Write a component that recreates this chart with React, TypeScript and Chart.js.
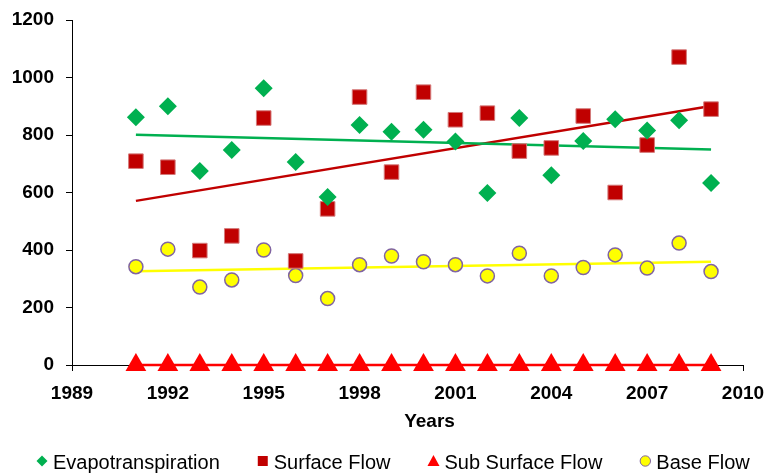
import { useEffect, useRef } from "react";
import { Chart, registerables } from "chart.js";

Chart.register(...registerables);

// Annual water balance components (mm) for each year of record
const years = [1991, 1992, 1993, 1994, 1995, 1996, 1997, 1998, 1999, 2000, 2001, 2002, 2003, 2004, 2005, 2006, 2007, 2008, 2009];
const evapotranspiration = [862, 900, 675, 748, 963, 706, 584, 835, 811, 818, 777, 598, 859, 660, 779, 855, 816, 851, 633];
const surfaceFlow = [709, 688, 398, 449, 859, 362, 543, 932, 671, 949, 853, 876, 744, 755, 866, 600, 765, 1071, 890];
const subSurfaceFlow = [0, 0, 0, 0, 0, 0, 0, 0, 0, 0, 0, 0, 0, 0, 0, 0, 0, 0, 0];
const baseFlow = [342, 403, 271, 296, 400, 311, 231, 349, 379, 359, 349, 310, 389, 310, 339, 383, 337, 424, 325];

// Axis ticks
const yearTicks = [1989, 1992, 1995, 1998, 2001, 2004, 2007, 2010];
const valueTicks = [0, 200, 400, 600, 800, 1000, 1200];

const FONT = '"Liberation Sans", Arial, Helvetica, sans-serif';
const GREEN = "#00B050";
const DARK_RED = "#C00000";
const RED = "#FF0000";
const YELLOW = "#FFFF00";
const PURPLE = "#8064A2";

type Series = {
  label: string;
  values: number[];
  shape: "diamond" | "square" | "triangle" | "circle";
  fill: string;
  edge: string;
  trendColor: string;
};

const series: Series[] = [
  { label: "Evapotranspiration", values: evapotranspiration, shape: "diamond", fill: GREEN, edge: GREEN, trendColor: GREEN },
  { label: "Surface Flow", values: surfaceFlow, shape: "square", fill: DARK_RED, edge: "#d47a7a", trendColor: DARK_RED },
  { label: "Sub Surface Flow", values: subSurfaceFlow, shape: "triangle", fill: RED, edge: RED, trendColor: RED },
  { label: "Base Flow", values: baseFlow, shape: "circle", fill: YELLOW, edge: PURPLE, trendColor: YELLOW },
];

// Least-squares linear trend evaluated at the first and last year
function linearTrend(xs: number[], ys: number[]) {
  const n = xs.length;
  const mx = xs.reduce((a, b) => a + b, 0) / n;
  const my = ys.reduce((a, b) => a + b, 0) / n;
  let sxy = 0;
  let sxx = 0;
  for (let i = 0; i < n; i++) {
    sxy += (xs[i] - mx) * (ys[i] - my);
    sxx += (xs[i] - mx) * (xs[i] - mx);
  }
  const slope = sxx === 0 ? 0 : sxy / sxx;
  const at = (x: number) => my + slope * (x - mx);
  return [
    { x: xs[0], y: at(xs[0]) },
    { x: xs[n - 1], y: at(xs[n - 1]) },
  ];
}

const pointStyleOf = {
  diamond: { pointStyle: "rectRot", radius: 9, border: 0 },
  square: { pointStyle: "rect", radius: 10.3, border: 1 },
  triangle: { pointStyle: "triangle", radius: 12, border: 0 },
  circle: { pointStyle: "circle", radius: 7, border: 1.5 },
} as const;

function drawKeySymbol(ctx: CanvasRenderingContext2D, s: Series, cx: number, cy: number) {
  ctx.save();
  ctx.fillStyle = s.fill;
  ctx.strokeStyle = s.edge;
  ctx.lineWidth = 1;
  ctx.beginPath();
  if (s.shape === "diamond") {
    const h = 5.5;
    ctx.moveTo(cx, cy - h);
    ctx.lineTo(cx + h, cy);
    ctx.lineTo(cx, cy + h);
    ctx.lineTo(cx - h, cy);
    ctx.closePath();
    ctx.fill();
  } else if (s.shape === "square") {
    ctx.rect(cx - 5, cy - 5, 10, 10);
    ctx.fill();
  } else if (s.shape === "triangle") {
    ctx.moveTo(cx, cy - 6);
    ctx.lineTo(cx + 6, cy + 5);
    ctx.lineTo(cx - 6, cy + 5);
    ctx.closePath();
    ctx.fill();
  } else {
    ctx.arc(cx, cy, 5.2, 0, Math.PI * 2);
    ctx.fill();
    ctx.stroke();
  }
  ctx.restore();
}

// Axis title and series key drawn beneath the plot
const keyPlugin = {
  id: "bottomKey",
  afterDraw(chart: Chart) {
    const { ctx, chartArea } = chart;
    ctx.save();
    ctx.fillStyle = "#000";
    ctx.font = `bold 19px ${FONT}`;
    ctx.textAlign = "center";
    ctx.textBaseline = "alphabetic";
    ctx.fillText("Years", (chartArea.left + chartArea.right) / 2 + 22, chartArea.bottom + 62);

    ctx.font = `20px ${FONT}`;
    ctx.textAlign = "left";
    let x = 41;
    const textY = 469;
    const symY = 461;
    for (const s of series) {
      drawKeySymbol(ctx, s, x + 1, symY);
      ctx.fillStyle = "#000";
      ctx.fillText(s.label, x + 12, textY);
      x += 12 + ctx.measureText(s.label).width + 42;
    }
    ctx.restore();
  },
};

export default function App() {
  const canvasRef = useRef<HTMLCanvasElement | null>(null);

  useEffect(() => {
    const canvas = canvasRef.current;
    if (!canvas) return;

    const pointSets = series.map((s) => {
      const st = pointStyleOf[s.shape];
      return {
        type: "scatter" as const,
        label: s.label,
        data: years.map((y, i) => ({ x: y, y: s.values[i] })),
        pointStyle: st.pointStyle,
        pointRadius: st.radius,
        pointHoverRadius: st.radius,
        pointBackgroundColor: s.fill,
        pointBorderColor: s.edge,
        pointBorderWidth: st.border,
        backgroundColor: s.fill,
        borderColor: s.edge,
        showLine: false,
        clip: false as const,
      };
    });

    const trendSets = series.map((s) => ({
      type: "line" as const,
      label: s.label + " trend",
      data: linearTrend(years, s.values),
      borderColor: s.trendColor,
      borderWidth: 2.5,
      pointRadius: 0,
      fill: false,
      clip: false as const,
    }));

    const chart = new Chart(canvas, {
      type: "scatter",
      data: { datasets: [...pointSets, ...trendSets] as any },
      plugins: [keyPlugin],
      options: {
        responsive: false,
        animation: false,
        devicePixelRatio: 1,
        layout: { padding: { left: 0, top: 20, right: 25, bottom: 0 } },
        plugins: {
          legend: { display: false },
          tooltip: { enabled: false },
          title: { display: false },
        },
        scales: {
          x: {
            type: "linear",
            min: yearTicks[0],
            max: yearTicks[yearTicks.length - 1],
            afterBuildTicks: (scale: any) => {
              scale.ticks = yearTicks.map((v) => ({ value: v }));
            },
            afterFit: (scale: any) => {
              scale.height = 109;
              scale.paddingLeft = 0;
              scale.paddingRight = 0;
            },
            grid: {
              drawOnChartArea: false,
              drawTicks: true,
              tickLength: 6,
              color: "#000",
              lineWidth: 1,
            },
            border: { display: true, color: "#000", width: 1 },
            ticks: {
              padding: 11,
              color: "#000",
              font: { family: FONT, size: 19, weight: "bold" },
              maxRotation: 0,
              callback: (v: any) => String(v),
            },
          },
          y: {
            type: "linear",
            min: valueTicks[0],
            max: valueTicks[valueTicks.length - 1],
            afterBuildTicks: (scale: any) => {
              scale.ticks = valueTicks.map((v) => ({ value: v }));
            },
            afterFit: (scale: any) => {
              scale.width = 72;
              scale.paddingTop = 0;
              scale.paddingBottom = 0;
            },
            grid: {
              drawOnChartArea: false,
              drawTicks: true,
              tickLength: 6,
              color: "#000",
              lineWidth: 1,
            },
            border: { display: true, color: "#000", width: 1 },
            ticks: {
              padding: 12,
              color: "#000",
              font: { family: FONT, size: 19, weight: "bold" },
              callback: (v: any) => String(v),
            },
          },
        },
      },
    });

    return () => chart.destroy();
  }, []);

  return (
    <div style={{ position: "fixed", left: 0, top: 0, width: 768, height: 474, background: "#fff" }}>
      <canvas ref={canvasRef} width={768} height={474} style={{ display: "block" }} />
    </div>
  );
}
